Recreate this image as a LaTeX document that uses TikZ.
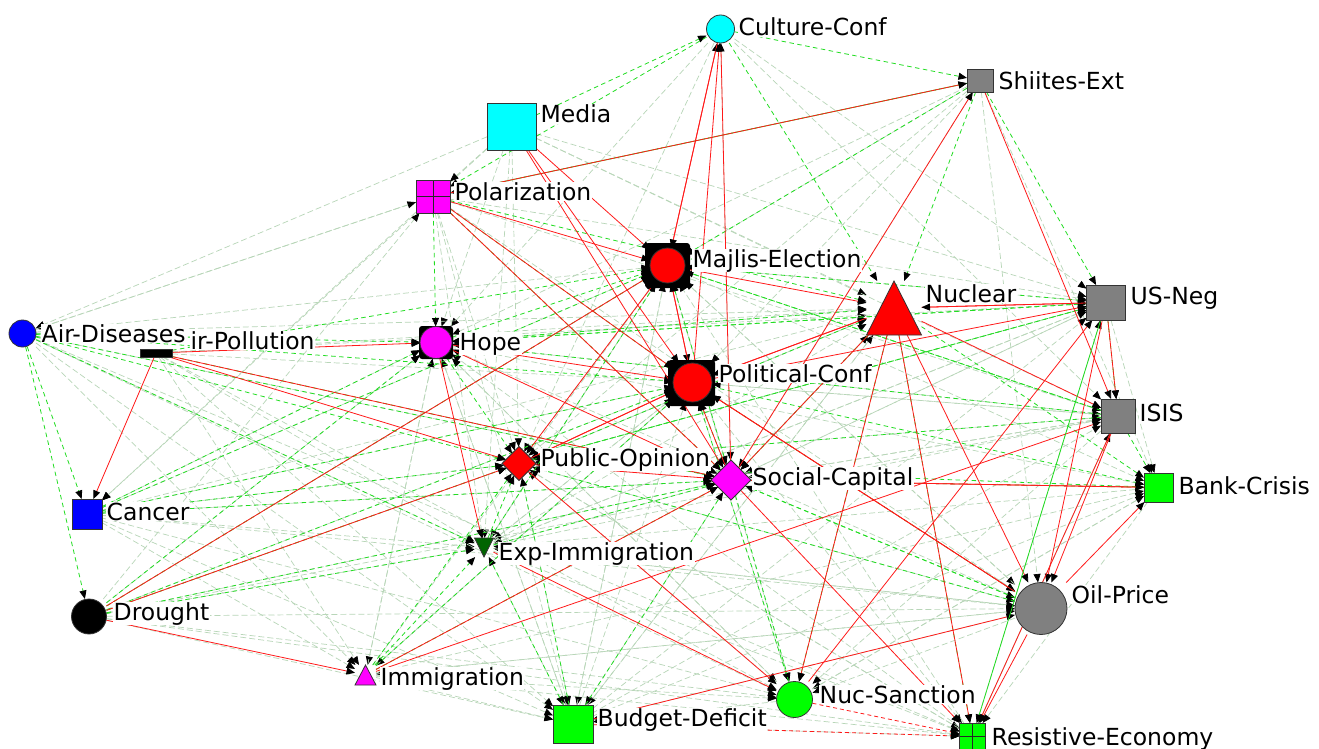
\documentclass[tikz,border=0pt]{standalone}
\usepackage{fontspec}
\setmainfont{DejaVu Sans}
\usetikzlibrary{arrows.meta,shapes.geometric,backgrounds}
\definecolor{cyanN}{HTML}{00FFFF}
\definecolor{grayN}{HTML}{808080}
\definecolor{magN}{HTML}{FF00FF}
\definecolor{redN}{HTML}{FF0000}
\definecolor{blueN}{HTML}{0000FF}
\definecolor{greenN}{HTML}{00FF00}
\definecolor{dgreenN}{HTML}{006400}
\definecolor{edgeRed}{HTML}{FF1A1A}
\definecolor{edgeGreen}{HTML}{22DD22}
\definecolor{edgeLight}{HTML}{B8D6B8}
\tikzset{
  ghost/.style={rectangle, inner sep=0pt, outer sep=0pt},
  box/.style={rectangle, inner sep=0pt, outer sep=0pt, draw=black!80, line width=0.8pt},
  dia/.style={diamond, inner sep=0pt, outer sep=0pt, draw=black!80, line width=0.8pt},
  shp/.style={draw=black!80, line width=0.8pt},
  blob/.style={fill=black, rounded corners=3pt},
  gridded/.style={path picture={\draw[black!85,line width=0.9pt] (path picture bounding box.north) -- (path picture bounding box.south) (path picture bounding box.west) -- (path picture bounding box.east);}},
  tipA/.style={-{Triangle[length=8.5pt,width=7pt,color=black]}},
  eLight/.style={tipA, draw=edgeLight, line width=0.7pt, dash pattern=on 6pt off 3pt},
  eGreen/.style={tipA, draw=edgeGreen, line width=0.8pt, dash pattern=on 4.5pt off 3.5pt},
  eRed/.style={tipA, draw=edgeRed, line width=0.8pt},
  eRedD/.style={tipA, draw=edgeRed, line width=0.8pt, dash pattern=on 4pt off 3pt},
  eGreenS/.style={tipA, draw=edgeGreen, line width=0.8pt},
  lbl/.style={anchor=base west, fill=white, inner sep=0.5pt, font=\fontsize{23.5}{26}\selectfont},
}
\begin{document}
\begin{tikzpicture}[x=1pt,y=-1pt]
\useasboundingbox (0,0) rectangle (1319,749);
% nodes
\node[ghost, minimum size=28pt] (cc) at (720.5,29) {};
\node[box, fill=grayN, minimum width=26pt, minimum height=23pt] (se) at (980,80.5) {};
\node[box, fill=cyanN, minimum width=49pt, minimum height=47pt] (me) at (511.5,126.5) {};
\node[box, gridded, fill=magN, minimum width=34pt, minimum height=33pt] (po) at (433,196.5) {};
\node[ghost, minimum size=35pt] (mj) at (667.5,265.5) {};
\node[ghost, minimum width=55pt, minimum height=54pt] (nu) at (894,308) {};
\node[box, fill=grayN, minimum width=39pt, minimum height=35pt] (us) at (1106,302.5) {};
\node[ghost, minimum size=27pt] (ad) at (22.5,333.5) {};
\node[box, fill=black, minimum width=32pt, minimum height=8pt] (ap) at (156,353) {};
\node[ghost, minimum size=32pt] (ho) at (436,342.5) {};
\node[ghost, minimum size=39pt] (pc) at (692.5,382.5) {};
\node[box, fill=grayN, minimum size=34pt] (is) at (1118,416) {};
\node[dia, fill=redN, minimum size=34pt] (pu) at (519,463.5) {};
\node[dia, fill=magN, minimum size=40pt] (sc) at (731,480) {};
\node[box, fill=greenN, minimum size=29pt] (bc) at (1158.5,487.5) {};
\node[box, fill=blueN, minimum size=30pt] (ca) at (87,514) {};
\node[ghost, minimum size=19pt] (ei) at (484,547.5) {};
\node[ghost, minimum size=35pt] (dr) at (89,616.5) {};
\node[ghost, minimum size=52pt] (op) at (1041,608.5) {};
\node[ghost, minimum width=21pt, minimum height=20pt] (im) at (365.5,675) {};
\node[ghost, minimum size=36pt] (ns) at (794.5,699.5) {};
\node[box, fill=greenN, minimum width=40pt, minimum height=38pt] (bd) at (573,724) {};
\node[box, gridded, fill=greenN, minimum width=26pt, minimum height=27pt] (re) at (972.5,736.5) {};
% arrowhead clusters around hub nodes
\fill[blob] (645,243) rectangle (690,288);
\fill[blob] (668,360) rectangle (715,406);
\fill[blob] (419,326) rectangle (453,359);
% shapes
\filldraw[shp, fill=cyanN] (cc.center) circle (14pt);
\filldraw[shp, fill=redN] (mj.center) circle (17.5pt);
\filldraw[shp, fill=redN] (nu.south west) -- (nu.north) -- (nu.south east) -- cycle;
\filldraw[shp, fill=blueN] (ad.center) circle (13.5pt);
\filldraw[shp, fill=magN] (ho.center) circle (16pt);
\filldraw[shp, fill=redN] (pc.center) circle (19.5pt);
\filldraw[shp, fill=dgreenN] (ei.north west) -- (ei.south) -- (ei.north east) -- cycle;
\filldraw[shp, fill=black] (dr.center) circle (17.5pt);
\filldraw[shp, fill=grayN] (op.center) circle (26pt);
\filldraw[shp, fill=magN] (im.south west) -- (im.north) -- (im.south east) -- cycle;
\filldraw[shp, fill=greenN] (ns.center) circle (18pt);
% edges
\begin{scope}[on background layer]
\fill[white] (0,0) rectangle (1319,749);
\foreach \a/\b in {me/ad, po/ad, me/ca, po/ca, cc/ho, cc/pu, cc/sc, cc/is, cc/us, se/ho, se/pu, se/mj, se/sc, se/op, se/bc, me/nu, me/ho, me/pu, me/ei, po/ei, po/pu, po/bd, ho/is, ho/bc, ho/bd, ho/im, ho/ns, mj/bc, mj/op, mj/ei, mj/bd, pc/is, pc/ns, pc/re, pc/im, pc/ei, nu/pu, nu/ho, nu/bd, us/bc, us/sc, us/ei, is/sc, is/ns, is/re, bc/ns, bc/re, bc/ei, op/ho, op/mj, op/ei, op/im, op/ns, op/bd, ad/ei, ad/im, ad/sc, ad/bd, ap/ei, ap/im, ap/pc, ap/bd, ca/pu, ca/ei, ca/sc, ca/bd, ca/im, dr/ei, dr/bd, dr/sc, im/bd, im/re, im/ns, ei/bd, ei/re, ei/sc, pu/bd, pu/re, sc/bd, ns/bd, bd/re, re/us, se/pc, me/po, ad/po, dr/po, ca/ho, us/mj, is/pc, dr/mj, dr/pc, dr/pu, dr/ho, dr/is, dr/op, dr/ns, dr/re, ca/mj, ca/pc, ca/nu, ca/ns, ca/op, im/mj, im/pc, im/ho, im/op, im/bc, ad/mj, ad/nu, ad/ns, ad/re, ap/nu, ap/us, ap/ns, bd/ho, bd/mj, bd/pc, bd/nu, bd/us, bd/is, bd/bc, ns/ho, ns/pu, ns/mj, ns/bc, re/ho, re/pu, re/mj, re/is, ei/mj, ei/pc, ei/nu, ei/us, ei/is, ei/op, pu/mj, pu/nu, pu/us, pu/is, pu/op, sc/mj, sc/nu, sc/us, sc/is, me/us, me/is, po/us, po/is, po/op}
  \draw[eLight] (\a) -- (\b);
\foreach \a/\b in {ad/ca, ad/dr, ad/pu, ad/pc, ad/ho, ap/sc, ap/mj, ca/mj, ca/pc, dr/ho, dr/pc, dr/sc, po/ho, po/nu, po/sc, po/pc, po/se, me/cc, cc/po, cc/se, cc/nu, se/po, se/us, se/nu, se/mj, ho/mj, ho/nu, ho/us, ho/pu, mj/us, mj/sc, mj/is, nu/bc, nu/ns, nu/re, nu/sc, us/is, is/bc, is/pu, is/mj, sc/op, sc/ns, sc/bc, op/pu, op/pc, op/sc, im/ei, im/pu, bd/sc, bd/ei, ei/pu, pc/bc, pc/sc, bc/pu, us/ho, us/pu, is/ho, dr/pu, dr/mj, dr/ei, ca/ho, ca/pu, ca/sc, im/sc, im/pc, ad/sc, ad/ei, ei/sc, ei/mj, pu/nu, pu/us, bd/pu, ns/pc}
  \draw[eGreen] (\a) -- (\b);
\foreach \a/\b in {ap/ca, ap/ho, ap/pu, ap/sc, ho/pc, ho/ei, ho/sc, po/mj, po/pc, po/sc, po/se, me/mj, me/pc, me/sc, mj/cc, cc/mj, pc/cc, sc/cc, mj/nu, mj/pc, pc/mj, mj/pu, dr/mj, dr/pu, dr/im, pc/nu, nu/pc, pc/pu, pu/pc, pc/us, pc/op, nu/us, us/nu, nu/is, nu/op, nu/ns, nu/re, nu/sc, us/is, us/op, se/is, ns/us, is/op, bc/sc, sc/bc, op/bc, im/sc, im/is, ei/ns, pu/ns, sc/re, bd/op, op/re, is/re, sc/se, pu/sc, sc/pc, op/pc}
  \draw[eRed] (\a) -- (\b);
\draw[eRedD] (ns) -- (re);
\draw[eRedD] (bd) -- (re);
\draw[eGreenS] (us) -- (re);
\end{scope}
% labels
\node[lbl] (l-cc) at (738,36) {Culture-Conf};
\node[lbl] (l-se) at (998,90) {Shiites-Ext};
\node[lbl] (l-me) at (540,123) {Media};
\node[lbl] (l-po) at (454,200) {Polarization};
\node[lbl] (l-mj) at (692,267) {Majlis-Election};
\node[lbl] (l-nu) at (925,302) {Nuclear};
\node[lbl] (l-us) at (1130,304) {US-Neg};
\node[lbl] (l-ad) at (41,342) {Air-Diseases};
\node[lbl] (l-ap) at (190,349) {ir-Pollution};
\node[lbl] (l-ho) at (459,350) {Hope};
\node[lbl] (l-pc) at (718,382) {Political-Conf};
\node[lbl] (l-is) at (1139,421) {ISIS};
\node[lbl] (l-pu) at (540,466) {Public-Opinion};
\node[lbl] (l-sc) at (752,485) {Social-Capital};
\node[lbl] (l-bc) at (1178,494) {Bank-Crisis};
\node[lbl] (l-ca) at (106,520) {Cancer};
\node[lbl] (l-ei) at (498,560) {Exp-Immigration};
\node[lbl] (l-dr) at (113,620) {Drought};
\node[lbl] (l-op) at (1071,603) {Oil-Price};
\node[lbl] (l-im) at (380,685) {Immigration};
\node[lbl] (l-ns) at (819,703) {Nuc-Sanction};
\node[lbl] (l-bd) at (597,726) {Budget-Deficit};
\node[lbl] (l-re) at (991,745) {Resistive-Economy};
\end{tikzpicture}
\end{document}
